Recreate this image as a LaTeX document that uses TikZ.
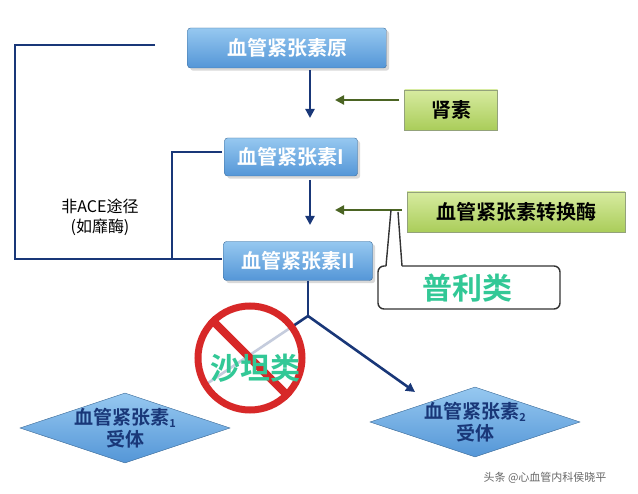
\documentclass[tikz,border=0pt]{standalone}
\usepackage{fontspec}
\setmainfont{Noto Sans CJK SC}[BoldFont={Noto Sans CJK SC Bold}]
\usetikzlibrary{shapes.geometric,arrows.meta,shadows}
\definecolor{bluebox}{RGB}{84,150,215}
\definecolor{bluetop}{RGB}{150,200,240}
\definecolor{navy}{RGB}{25,55,120}
\definecolor{greenbox}{RGB}{170,205,90}
\definecolor{greentop}{RGB}{215,235,160}
\definecolor{olive}{RGB}{75,100,35}
\definecolor{teal}{RGB}{50,200,150}
\definecolor{nored}{RGB}{215,40,40}
\newcommand{\subtx}[1]{\raisebox{-0.3ex}{\fontsize{11}{11}\selectfont #1}}
\tikzset{
  bluenode/.style={draw=bluebox!70!black, rounded corners=3pt, top color=bluetop, bottom color=bluebox, text=white, font=\bfseries\fontsize{20}{22}\selectfont, inner sep=0pt, drop shadow={opacity=0.3}},
  greennode/.style={draw=olive!60, top color=greentop, bottom color=greenbox, text=black, font=\bfseries\fontsize{20}{22}\selectfont, inner sep=0pt},
  flow/.style={navy, line width=2.6pt, -{Triangle[length=9pt,width=9pt]}},
  gflow/.style={olive, line width=2.6pt, -{Triangle[length=9pt,width=9pt]}},
  brk/.style={navy, line width=2.2pt},
  diam/.style={diamond, aspect=3.2, draw=bluebox!70!black, top color=bluetop, bottom color=bluebox, inner sep=0pt, minimum width=210pt, minimum height=70pt},
  dtext/.style={text=navy, font=\bfseries\fontsize{19}{22}\selectfont, align=center},
  glow/.style={text=teal, font=\bfseries\fontsize{30}{32}\selectfont}
}
\begin{document}
\begin{tikzpicture}[x=1pt,y=-1pt]
\useasboundingbox (0,0) rectangle (638,494);
\coordinate (bt) at (155,45);
\coordinate (st) at (222,152);
\draw[brk] (bt) -- (15,45) -- (15,259) -- (222,259);
\draw[brk] (st) -- (172,152) -- (172,259);
\node[font=\fontsize{16}{20}\selectfont, align=center, fill=white, inner sep=1pt] (nace) at (100,217) {非ACE途径\\(如靡酶)};
\node[bluenode, minimum width=199pt, minimum height=40pt] (a0) at (287,48) {血管紧张素原};
\node[bluenode, minimum width=133pt, minimum height=38pt] (a1) at (291,157) {血管紧张素I};
\node[bluenode, minimum width=149pt, minimum height=39pt] (a2) at (298,261) {血管紧张素II};
\node[greennode, minimum width=93pt, minimum height=40pt] (renin) at (451,110) {肾素};
\node[greennode, minimum width=218pt, minimum height=40pt] (ace) at (516,212) {血管紧张素转换酶};
\coordinate (c0) at (310,118);
\coordinate (c1) at (310,225);
\draw[flow] (310,70) -- (c0);
\draw[flow] (310,180) -- (c1);
\coordinate (r0) at (335,100);
\coordinate (r1) at (335,210);
\draw[gflow] (renin.west |- r0) ++(-5,0) -- (r0);
\draw[gflow] (ace.west |- r1) ++(-5,0) -- (r1);
\draw[black!80, line width=1.4pt, fill=white, rounded corners=6pt] (386,266) -- (378,266) -- (378,309) -- (560,309) -- (560,266) -- (402,266);
\draw[black!80, line width=1.4pt] (386,266) -- (391,210);
\draw[black!80, line width=1.4pt] (402,266) -- (398,212);
\node[glow] (puli) at (467,288) {普利类};
\coordinate (br) at (308,316);
\coordinate (ll) at (205,385);
\coordinate (rr) at (415,392);
\draw[navy, line width=2.6pt] (a2.south -| br) -- (br);
\draw[navy, line width=2.6pt] (br) -- (ll);
\draw[flow] (br) -- (rr);
\node[circle, draw=nored, line width=7pt, fill=white, fill opacity=0.75, draw opacity=1, minimum size=104pt] (no) at (250,358) {};
\draw[nored, line width=8pt] (no.135) -- (no.-45);
\node[glow] (sartan) at (255,368) {沙坦类};
\node[diam] (d1) at (125,428) {};
\node[dtext] at (d1) {血管紧张素\subtx{1}\\受体};
\node[diam] (d2) at (475,422) {};
\node[dtext] at (d2) {血管紧张素\subtx{2}\\受体};
\node[text=gray!80!black, font=\fontsize{11}{13}\selectfont] (wm) at (545,478) {头条 @心血管内科侯晓平};
\end{tikzpicture}
\end{document}
